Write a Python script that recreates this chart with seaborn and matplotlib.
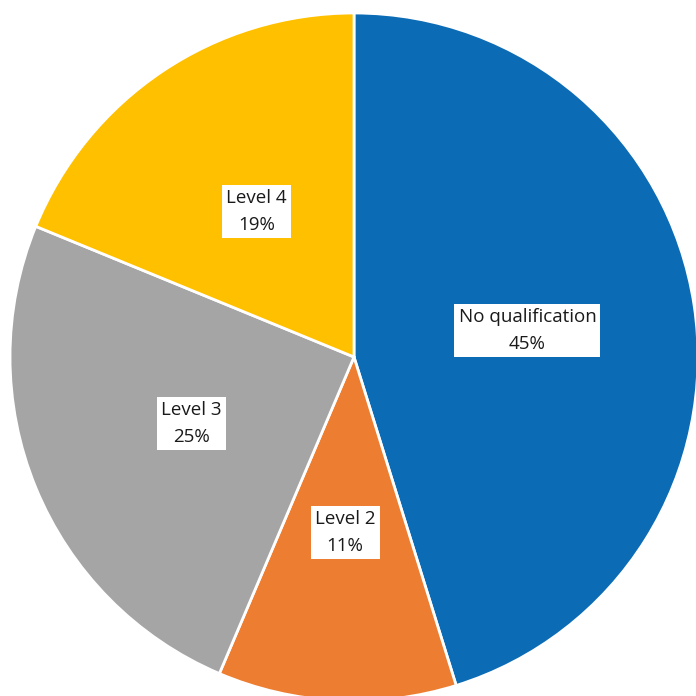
import matplotlib
matplotlib.use("Agg")
import matplotlib.pyplot as plt
import seaborn as sns

sns.set_style("white")
plt.rcParams['font.family'] = ['Open Sans', 'DejaVu Sans']

categories = ["No qualification", "Level 2", "Level 3", "Level 4"]
shares = [45.2, 11.2, 24.8, 18.8]
colors = sns.color_palette(["#0B6BB5", "#ED7D31", "#A5A5A5", "#FFC000"])

fig = plt.figure(figsize=(6.96, 6.96), dpi=100)
ax = fig.add_axes([0, 0, 1, 1])

wedges, texts = ax.pie(
    shares, colors=colors, startangle=90, counterclock=False,
    labels=[f"{c}\n{round(s)}%" for c, s in zip(categories, shares)],
    labeldistance=0.51,
    wedgeprops=dict(edgecolor="white", linewidth=2),
    textprops=dict(fontsize=13.5, ha="center", va="center", linespacing=1.65,
                   color="#1a1a1a"),
)
for t in texts:
    t.set_bbox(dict(facecolor="white", edgecolor="none", pad=3))

# pie centre at (354, 357) px, radius 344 px
r = 344
ax.set_xlim(-354 / r, (696 - 354) / r)
ax.set_ylim(-(696 - 357) / r, 357 / r)
ax.set_aspect("equal")
ax.axis("off")

fig.savefig("out.png", dpi=100)
